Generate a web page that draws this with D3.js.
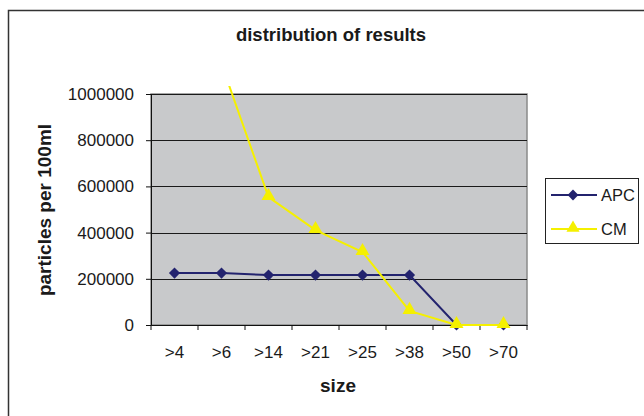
<!DOCTYPE html>
<html><head><meta charset="utf-8">
<script src="https://cdn.jsdelivr.net/npm/d3@7"></script>
<style>body{margin:0;background:#fff}svg{display:block}text{font-family:"Liberation Sans",Arial,sans-serif}</style>
</head><body><svg id="c" width="644" height="416"></svg>
<script>
const categories = [">4", ">6", ">14", ">21", ">25", ">38", ">50", ">70"];
const apcValues = [225000, 225000, 216000, 216000, 216000, 216000, 0, 0];
const cmValues = [1800000, 1130000, 554000, 411000, 316000, 61000, 0, 0];
const yTicks = [0, 200000, 400000, 600000, 800000, 1000000];
const seriesNames = ["APC", "CM"];

const svg = d3.select("#c");
const L = 151, R = 527, T = 94, B = 325;
const x = d3.scaleBand().domain(categories).range([L, R]);
const y = d3.scaleLinear().domain([0, 1000000]).range([B, T]);
const FF = "Liberation Sans, Arial, sans-serif";

// outer frame
svg.append("rect").attr("x", 8.5).attr("y", 10.5).attr("width", 700).attr("height", 500)
  .attr("fill", "none").attr("stroke", "#333").attr("stroke-width", 1.5);

svg.append("text").attr("x", 331).attr("y", 41).attr("text-anchor", "middle")
  .attr("font-size", 18.5).attr("font-weight", "bold").attr("fill", "#1a1a1a").text("distribution of results");

// plot area
svg.append("rect").attr("x", L).attr("y", T).attr("width", R - L).attr("height", B - T)
  .attr("fill", "#c8c9cb").attr("stroke", "#8a8a8a").attr("stroke-width", 1.5);

svg.append("g").selectAll("line").data(yTicks.filter(d => d > 0)).join("line")
  .attr("x1", L).attr("x2", R).attr("y1", d => Math.round(y(d)) + 0.5).attr("y2", d => Math.round(y(d)) + 0.5)
  .attr("stroke", "#1a1a1a").attr("stroke-width", 1.2);

const yAxis = svg.append("g").attr("transform", `translate(${L},0)`)
  .call(d3.axisLeft(y).tickValues(yTicks).tickFormat(d3.format("d")).tickSize(5).tickPadding(12));
yAxis.selectAll("text").attr("font-size", 17).attr("fill", "#1a1a1a").attr("font-family", FF);
yAxis.select(".domain").attr("stroke", "#111");
yAxis.selectAll(".tick line").attr("stroke", "#111");

const xAxis = svg.append("g").attr("transform", `translate(0,${B})`)
  .call(d3.axisBottom(x).tickSize(0).tickPadding(21));
xAxis.selectAll("text").attr("font-size", 17).attr("fill", "#1a1a1a").attr("font-family", FF);
xAxis.select(".domain").attr("stroke", "#111");
const bounds = categories.map(c => x(c)).concat([R]);
xAxis.selectAll(".sep").data(bounds).join("line").attr("class", "sep")
  .attr("x1", d => d).attr("x2", d => d).attr("y1", 0).attr("y2", 5).attr("stroke", "#111");

svg.append("text").attr("transform", "translate(51,210) rotate(-90)").attr("text-anchor", "middle")
  .attr("font-size", 19).attr("font-weight", "bold").attr("fill", "#1a1a1a").text("particles per 100ml");
svg.append("text").attr("x", 338).attr("y", 392).attr("text-anchor", "middle")
  .attr("font-size", 19).attr("font-weight", "bold").attr("fill", "#1a1a1a").text("size");

svg.append("clipPath").attr("id", "clip").append("rect").attr("x", 0).attr("y", 86).attr("width", 644).attr("height", 330);

const cx = c => x(c) + x.bandwidth() / 2;
const apcColor = "#23236e", cmColor = "#f5f000";
const line = d3.line().x(d => cx(d.c)).y(d => y(d.v));
const apcData = categories.map((c, i) => ({c, v: apcValues[i]}));
const cmData = categories.map((c, i) => ({c, v: cmValues[i]}));

const g = svg.append("g").attr("clip-path", "url(#clip)");
g.append("path").datum(apcData).attr("d", line).attr("fill", "none").attr("stroke", apcColor).attr("stroke-width", 2);
g.selectAll(".apc").data(apcData).join("path").attr("class", "apc")
  .attr("d", d3.symbol(d3.symbolDiamond2, 80)).attr("transform", d => `translate(${cx(d.c)},${y(d.v)})`).attr("fill", apcColor);
g.append("path").datum(cmData).attr("d", line).attr("fill", "none").attr("stroke", cmColor).attr("stroke-width", 2);
g.selectAll(".cm").data(cmData).join("path").attr("class", "cm")
  .attr("d", d3.symbol(d3.symbolTriangle, 85)).attr("transform", d => `translate(${cx(d.c)},${y(d.v) - 1})`).attr("fill", cmColor);

// legend
const lg = svg.append("g");
lg.append("rect").attr("x", 545.5).attr("y", 178.5).attr("width", 93).attr("height", 65)
  .attr("fill", "#fff").attr("stroke", "#222").attr("stroke-width", 1);
const colors = [apcColor, cmColor];
const syms = [d3.symbolDiamond2, d3.symbolTriangle];
seriesNames.forEach((n, i) => {
  const yy = 195 + i * 34;
  lg.append("line").attr("x1", 551).attr("x2", 597).attr("y1", yy).attr("y2", yy).attr("stroke", colors[i]).attr("stroke-width", 2);
  lg.append("path").attr("d", d3.symbol(syms[i], 75)).attr("transform", `translate(573,${yy - (i ? 1 : 0)})`).attr("fill", colors[i]);
  lg.append("text").attr("x", 601).attr("y", yy + 6).attr("font-size", 16.5).attr("fill", "#1a1a1a").text(n);
});
</script></body></html>
